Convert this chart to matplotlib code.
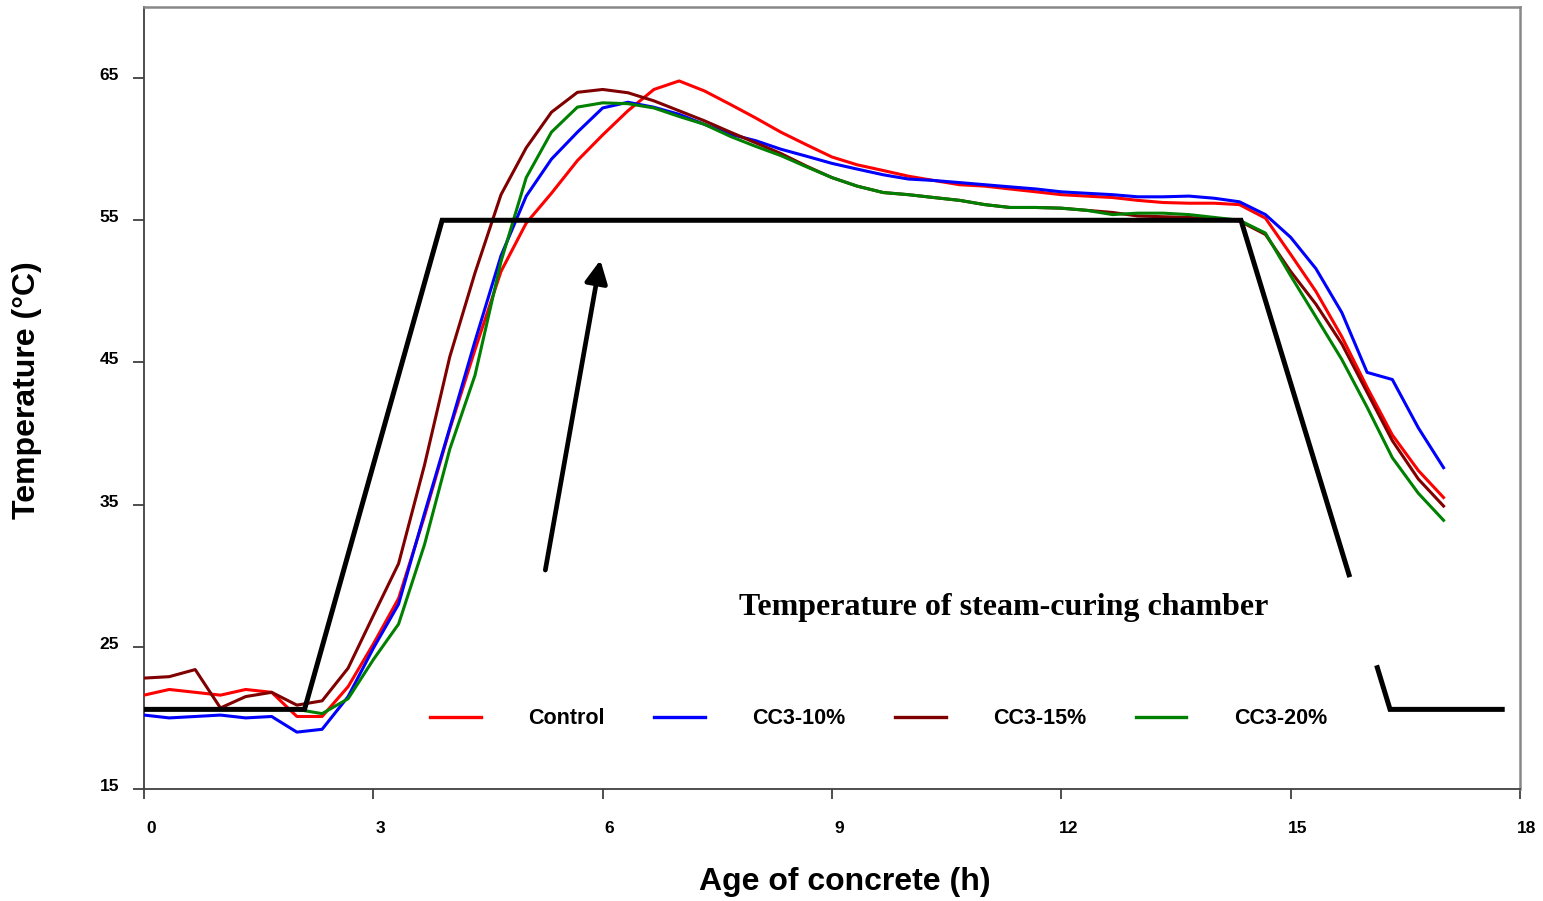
import numpy as np
import matplotlib
matplotlib.use("Agg")
import matplotlib.pyplot as plt
import matplotlib.transforms as mtransforms

# time axis, readings every 20 min (h)
hours = [0, 0.33, 0.67, 1, 1.33, 1.67, 2, 2.33, 2.67, 3, 3.33, 3.67,
         4, 4.33, 4.67, 5, 5.33, 5.67, 6, 6.33, 6.67, 7,
         7.33, 7.67, 8, 8.33, 8.67, 9, 9.33, 9.67, 10, 10.33,
         10.67, 11, 11.33, 11.67, 12, 12.33, 12.67, 13, 13.33, 13.67,
         14, 14.33, 14.67, 15, 15.33, 15.67, 16, 16.33, 16.67, 17]

control = [21.6, 22.0, 21.8, 21.6, 22.0, 21.8, 20.1, 20.1, 22.2, 25.2, 28.4, 34.2,
           40.3, 45.9, 51.4, 54.8, 56.9, 59.2, 61.0, 62.7, 64.2, 64.8,
           64.1, 63.15, 62.2, 61.2, 60.3, 59.45, 58.9, 58.5, 58.1, 57.8,
           57.5, 57.4, 57.2, 57.0, 56.8, 56.7, 56.6, 56.4, 56.25, 56.2,
           56.2, 56.1, 55.15, 52.6, 50.0, 46.8, 43.25, 39.9, 37.4, 35.5]

cc3_10 = [20.2, 20.0, 20.1, 20.2, 20.0, 20.1, 19.0, 19.2, 21.5, 24.9, 28.0, 34.4,
          40.4, 46.5, 52.5, 56.7, 59.3, 61.2, 62.9, 63.3, 62.95, 62.45,
          61.75, 61.05, 60.6, 60.0, 59.5, 59.0, 58.6, 58.2, 57.9, 57.8,
          57.65, 57.5, 57.35, 57.2, 57.0, 56.9, 56.8, 56.65, 56.65, 56.7,
          56.55, 56.3, 55.4, 53.8, 51.6, 48.5, 44.3, 43.8, 40.4, 37.6]

cc3_15 = [22.8, 22.9, 23.4, 20.7, 21.5, 21.8, 20.9, 21.2, 23.5, 27.2, 30.85, 37.8,
          45.4, 51.3, 56.8, 60.1, 62.6, 64.0, 64.2, 63.97, 63.4, 62.7,
          62.0, 61.2, 60.45, 59.7, 58.8, 58.0, 57.4, 56.95, 56.8, 56.6,
          56.4, 56.1, 55.9, 55.9, 55.85, 55.7, 55.55, 55.3, 55.25, 55.2,
          55.1, 54.95, 54.0, 51.4, 49.1, 46.3, 42.9, 39.5, 36.8, 34.9]

cc3_20 = [20.6, 20.6, 20.6, 20.6, 20.6, 20.6, 20.6, 20.3, 21.35, 24.1, 26.6, 32.2,
          38.9, 44.1, 52.1, 58.0, 61.2, 62.96, 63.26, 63.2, 62.9, 62.3,
          61.75, 60.9, 60.2, 59.55, 58.75, 58.0, 57.4, 56.95, 56.8, 56.6,
          56.4, 56.1, 55.9, 55.9, 55.85, 55.7, 55.4, 55.5, 55.5, 55.4,
          55.2, 55.0, 54.1, 51.1, 48.2, 45.2, 41.85, 38.3, 35.8, 33.9]

series_labels = ["Control", "CC3-10%", "CC3-15%", "CC3-20%"]
series_colors = ["#FF0000", "#0000FF", "#800000", "#008000"]

# steam-curing chamber profile
chamber_hours = [0, 2.1, 3.9, 14.35, 16.3, 17.8]
chamber_temp = [20.6, 20.6, 55, 55, 20.6, 20.6]
gap_temps = [29.9, 23.7]  # break in the cooling branch

arrow_start = (5.25, 30.4)
arrow_end = (5.97, 52.2)

x_ticks = [0, 3, 6, 9, 12, 15, 18]
y_ticks = [15, 25, 35, 45, 55, 65]

fig = plt.figure(figsize=(15.43, 9.01), dpi=100)
ax = fig.add_axes([144 / 1543, 1 - 789 / 901, (1520 - 144) / 1543, (789 - 7) / 901])

for vals, lab, col in zip([control, cc3_10, cc3_15, cc3_20], series_labels, series_colors):
    ax.plot(hours, vals, color=col, lw=2.2, label=lab, zorder=3)

# chamber line in two pieces (gap on the way down)
down_x = np.interp(gap_temps, [chamber_temp[4], chamber_temp[3]],
                   [chamber_hours[4], chamber_hours[3]])
ax.plot(chamber_hours[:4] + [down_x[0]], chamber_temp[:4] + [gap_temps[0]],
        color="black", lw=3.6, solid_joinstyle="miter", solid_capstyle="butt", zorder=4)
ax.plot([down_x[1]] + chamber_hours[4:], [gap_temps[1]] + chamber_temp[4:],
        color="black", lw=3.6, solid_joinstyle="miter", solid_capstyle="butt", zorder=4)

ax.annotate("", xy=arrow_end, xytext=arrow_start,
            arrowprops=dict(arrowstyle="-|>", color="black", lw=3.4,
                            mutation_scale=34, shrinkA=0, shrinkB=0), zorder=5)

ax.text(11.25, 27.8, "Temperature of steam-curing chamber", ha="center", va="center",
        fontsize=23, fontweight="bold", family="Liberation Serif")

ax.set_xlim(0, 18)
ax.set_ylim(15, 70)
ax.set_xticks(x_ticks)
ax.set_yticks(y_ticks)
ax.set_xticklabels([str(t) for t in x_ticks], fontsize=12.5, fontweight="bold",
                   family="Liberation Sans")
ax.set_yticklabels([str(t) for t in y_ticks], fontsize=12.5, fontweight="bold",
                   family="Liberation Sans")
ax.tick_params(axis="x", direction="out", length=7, width=1.3, pad=16, colors="#404040",
               labelcolor="black")
ax.tick_params(axis="y", direction="out", length=8, width=1.3, pad=10, colors="#404040",
               labelcolor="black")

# Excel-style label offsets
shift_x = mtransforms.ScaledTranslation(0.07, 0, fig.dpi_scale_trans)
for lbl in ax.get_xticklabels():
    lbl.set_transform(lbl.get_transform() + shift_x)
shift_y = mtransforms.ScaledTranslation(0, 0.04, fig.dpi_scale_trans)
for lbl in ax.get_yticklabels():
    lbl.set_transform(lbl.get_transform() + shift_y)

for side in ["left", "bottom"]:
    ax.spines[side].set_color("#404040")
    ax.spines[side].set_linewidth(1.3)
for side in ["top", "right"]:
    ax.spines[side].set_color("#888888")
    ax.spines[side].set_linewidth(1.8)

fig.text(845 / 1543, 1 - 882 / 901, "Age of concrete (h)", ha="center", va="center",
         fontsize=23, fontweight="bold", family="Liberation Sans")
fig.text(27 / 1543, 1 - 390 / 901, "Temperature (°C)", ha="center", va="center",
         rotation=90, fontsize=23, fontweight="bold", family="Liberation Sans")

leg = ax.legend(loc="center", bbox_to_anchor=(0.534, 0.09), ncol=4, frameon=False,
                handlelength=2.35, handletextpad=2.2, columnspacing=2.3,
                prop={"family": "Liberation Sans", "weight": "bold", "size": 15.5})
for h in leg.get_lines():
    h.set_linewidth(2.4)

fig.savefig("out.png", dpi=100)
